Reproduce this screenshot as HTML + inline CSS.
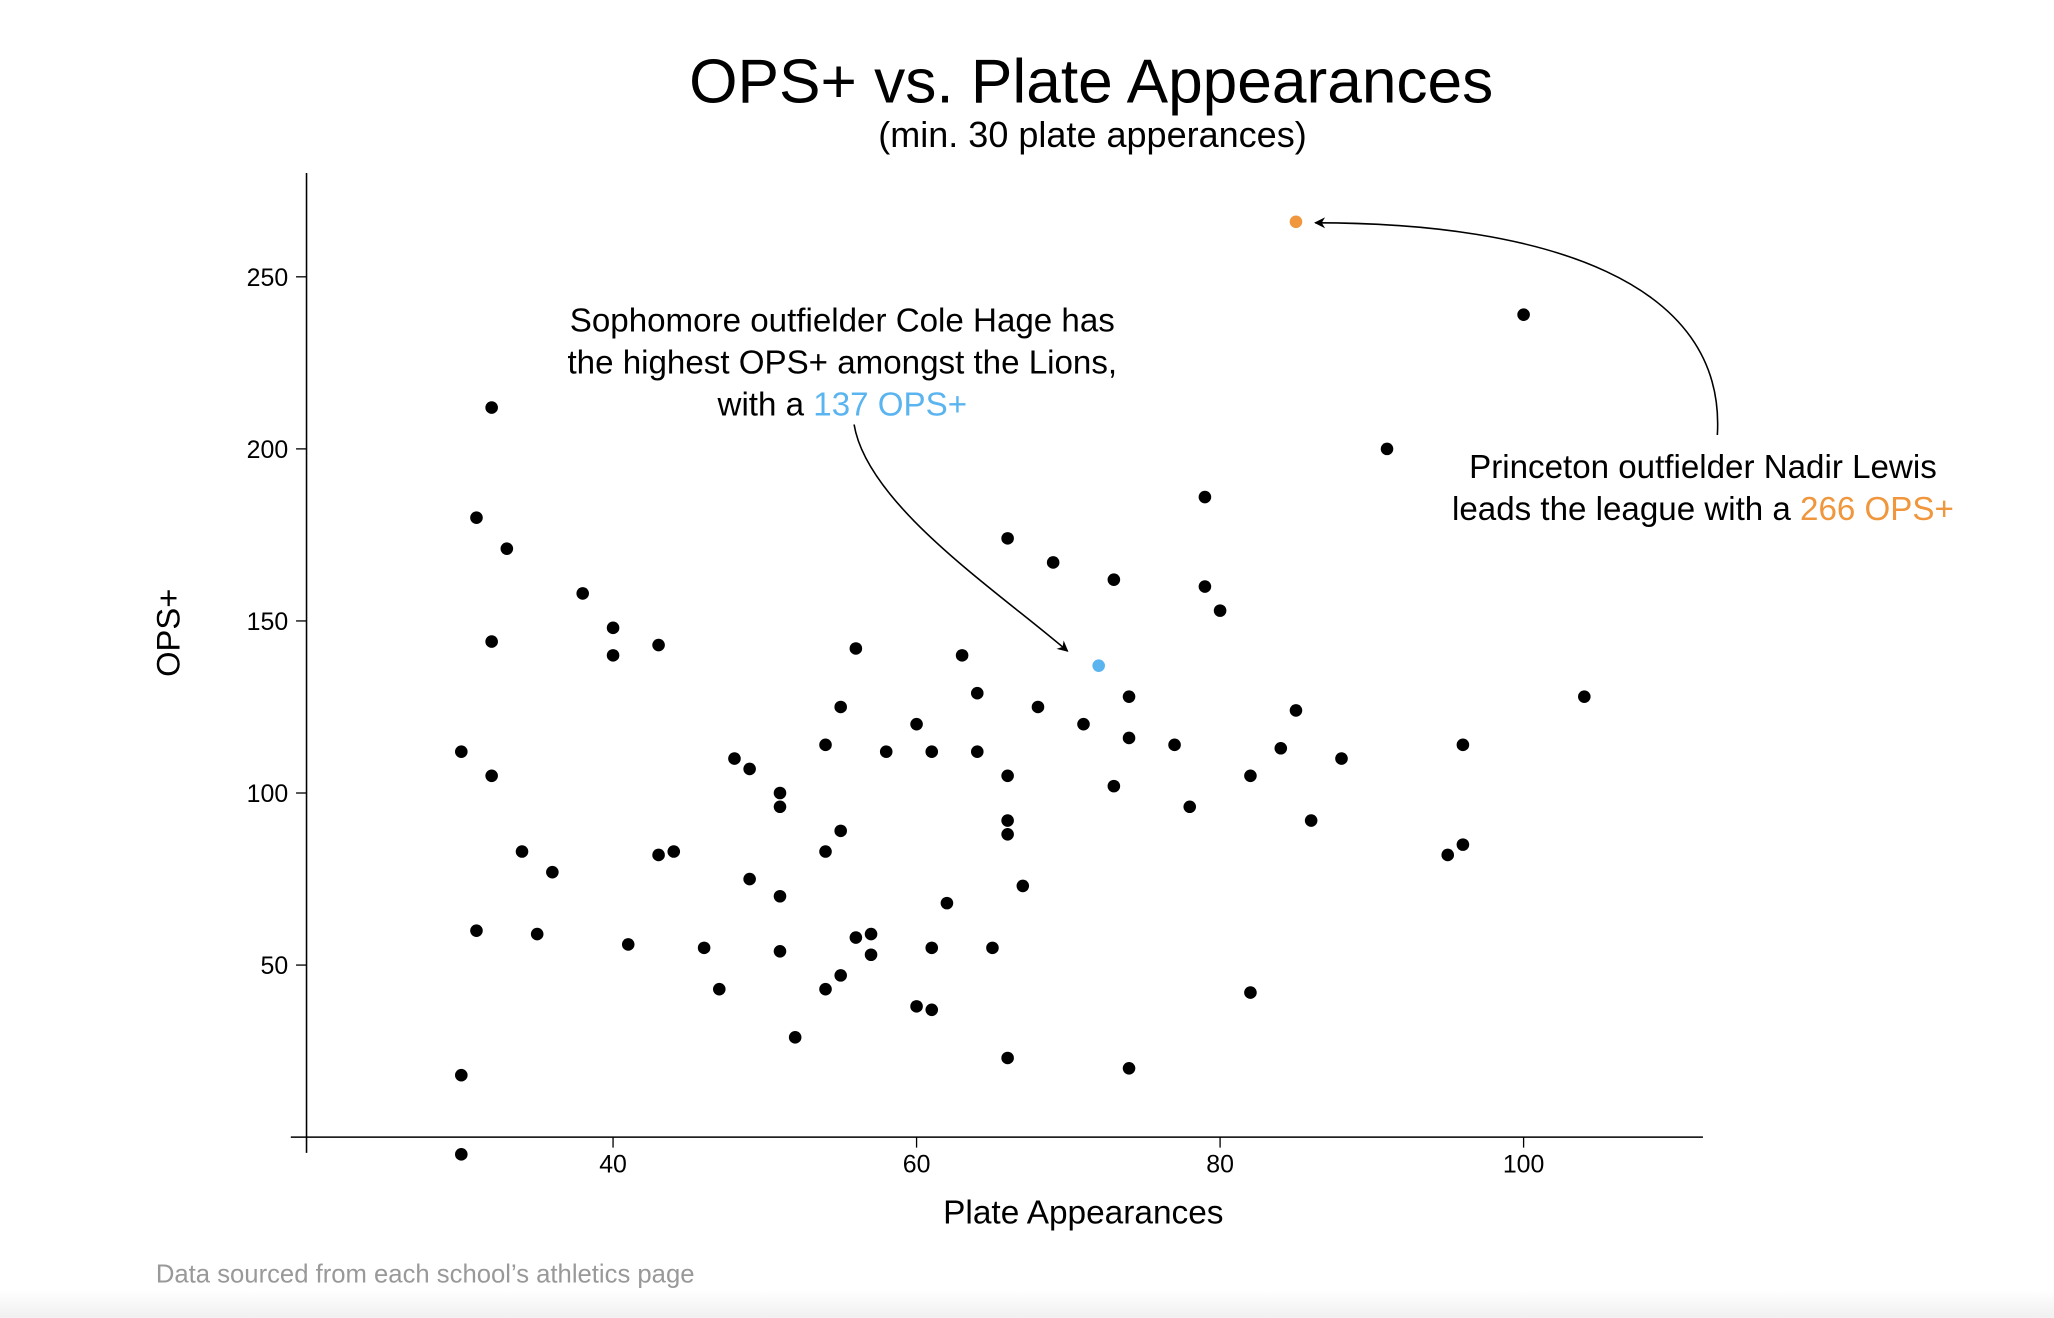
<!DOCTYPE html>
<html><head><meta charset="utf-8"><style>
html,body{margin:0;padding:0;background:#fff;}
svg{display:block;font-family:"Liberation Sans",sans-serif;}
</style></head><body>
<svg id="chart" width="2054" height="1318" viewBox="0 0 1568 1006" xmlns="http://www.w3.org/2000/svg">
<defs>
<linearGradient id="bg" x1="0" y1="0" x2="0" y2="1"><stop offset="0" stop-color="#fff"/><stop offset="1" stop-color="#f0f0f0"/></linearGradient>
<marker id="ah" viewBox="0 0 10 10" refX="9" refY="5" markerWidth="7" markerHeight="7" orient="auto-start-reverse"><path d="M0,0 L10,5 L0,10 L3,5 z" fill="#000"/></marker>
</defs>
<rect x="0" y="985" width="1568" height="21" fill="url(#bg)"/>
<text x="833" y="78" font-size="47.5" text-anchor="middle">OPS+ vs. Plate Appearances</text>
<text x="834" y="112" font-size="27.5" text-anchor="middle">(min. 30 plate apperances)</text>
<line x1="234" y1="132" x2="234" y2="880" stroke="#000" stroke-width="1.2"/>
<line x1="222" y1="868" x2="1300" y2="868" stroke="#000" stroke-width="1.2"/>
<g id="yticks"></g><g id="xticks"></g>
<text x="0" y="0" transform="translate(137,483) rotate(-90)" font-size="25" text-anchor="middle">OPS+</text>
<text x="827" y="934" font-size="25.5" text-anchor="middle">Plate Appearances</text>
<g id="points"></g>
<path d="M652,324 C662,385 760,450 815,497" fill="none" stroke="#000" stroke-width="1.2" marker-end="url(#ah)"/>
<path d="M1311,332 C1318,215 1180,170 1004,170" fill="none" stroke="#000" stroke-width="1.2" marker-end="url(#ah)"/>
<g font-size="25.3" text-anchor="middle">
<text x="643" y="253">Sophomore outfielder Cole Hage has</text>
<text x="643" y="285">the highest OPS+ amongst the Lions,</text>
<text x="643" y="317">with a <tspan fill="#5ab4f0">137 OPS+</tspan></text>
</g>
<g font-size="25.3" text-anchor="middle">
<text x="1300" y="365">Princeton outfielder Nadir Lewis</text>
<text x="1300" y="397">leads the league with a <tspan fill="#f0963c">266 OPS+</tspan></text>
</g>
<text x="119" y="979" font-size="19.6" fill="#999">Data sourced from each school’s athletics page</text>
</svg>
<script>
const paValues=[30,30,30,31,31,32,32,32,33,34,35,36,38,40,40,41,43,43,44,46,47,48,49,49,51,51,51,51,52,54,54,54,55,55,55,56,56,57,57,58,60,60,61,61,61,62,63,64,64,65,66,66,66,66,66,67,68,69,71,72,73,73,74,74,74,77,78,79,79,80,82,82,84,85,85,86,88,91,95,96,96,100,104];
const opsValues=[-5,18,112,180,60,212,144,105,171,83,59,77,158,148,140,56,143,82,83,55,43,110,107,75,100,96,70,54,29,114,83,43,125,89,47,142,58,59,53,112,120,38,112,55,37,68,140,129,112,55,174,105,92,88,23,73,125,167,120,137,162,102,128,116,20,114,96,186,160,153,105,42,113,266,124,92,110,200,82,114,85,239,128];
const highlight={72:"#5ab4f0",85:"#f0963c"};
const highlightOps={137:"#5ab4f0",266:"#f0963c"};
const xTicks=[40,60,80,100];
const yTicks=[50,100,150,200,250];
const NS="http://www.w3.org/2000/svg";
function xs(v){return 468+(v-40)*11.585;}
function ys(v){return 868-v*2.627;}
const pg=document.getElementById('points');
paValues.forEach((p,i)=>{
  const o=opsValues[i];
  const c=document.createElementNS(NS,'circle');
  c.setAttribute('cx',xs(p));c.setAttribute('cy',ys(o));c.setAttribute('r',4.8);
  let col="#000";
  if(highlight[p]&&highlightOps[o]===highlight[p])col=highlight[p];
  c.setAttribute('fill',col);
  
  
  pg.appendChild(c);
});
const yg=document.getElementById('yticks');
yTicks.forEach(t=>{
  const l=document.createElementNS(NS,'line');
  l.setAttribute('x1',226);l.setAttribute('x2',234);l.setAttribute('y1',ys(t));l.setAttribute('y2',ys(t));l.setAttribute('stroke','#000');
  
  
  yg.appendChild(l);
  const tx=document.createElementNS(NS,'text');
  tx.setAttribute('x',220);tx.setAttribute('y',ys(t)+7);tx.setAttribute('text-anchor','end');tx.setAttribute('font-size','19');
  tx.textContent=t;
  
  
  yg.appendChild(tx);
});
const xg=document.getElementById('xticks');
xTicks.forEach(t=>{
  const l=document.createElementNS(NS,'line');
  l.setAttribute('x1',xs(t));l.setAttribute('x2',xs(t));l.setAttribute('y1',868);l.setAttribute('y2',876);l.setAttribute('stroke','#000');
  
  
  xg.appendChild(l);
  const tx=document.createElementNS(NS,'text');
  tx.setAttribute('x',xs(t));tx.setAttribute('y',895);tx.setAttribute('text-anchor','middle');tx.setAttribute('font-size','19');
  tx.textContent=t;
  
  
  xg.appendChild(tx);
});
</script>
</body></html>
